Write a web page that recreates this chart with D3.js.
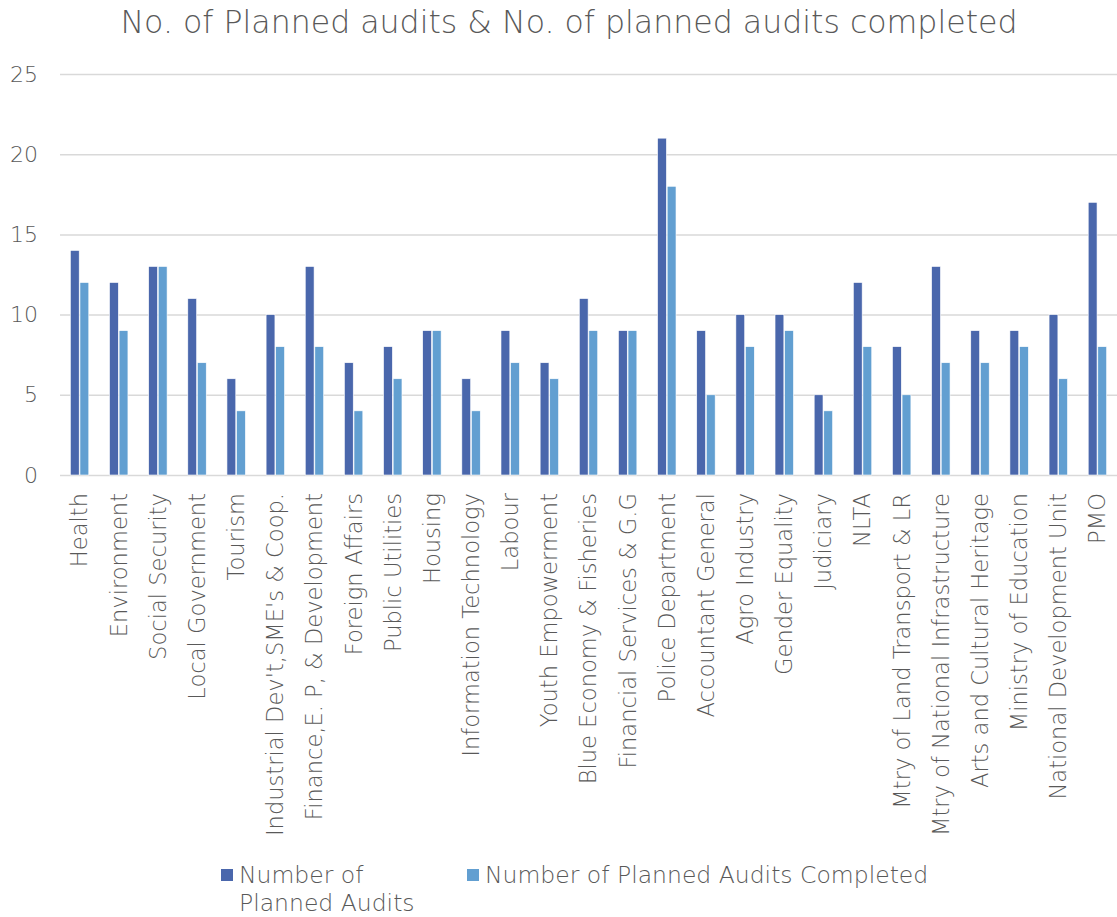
<!DOCTYPE html>
<html>
<head>
<meta charset="utf-8">
<script src="https://cdn.jsdelivr.net/npm/d3@7/dist/d3.min.js"></script>
<style>
  html, body { margin: 0; padding: 0; background: #fff; }
  svg text { font-family: "DejaVu Sans", sans-serif; font-weight: 200; fill: #595959; }
</style>
</head>
<body>
<svg id="chart" width="1117" height="917"></svg>
<script>
const title = "No. of Planned audits & No. of planned audits completed";
const categories = [
  "Health", "Environment", "Social Security", "Local Government", "Tourism",
  "Industrial Dev't,SME's & Coop.", "Finance,E. P, & Development", "Foreign Affairs",
  "Public Utilities", "Housing", "Information Technology", "Labour",
  "Youth Empowerment", "Blue Economy & Fisheries", "Financial Services & G.G",
  "Police Department", "Accountant General", "Agro Industry", "Gender Equality",
  "Judiciary", "NLTA", "Mtry of Land Transport & LR", "Mtry of National Infrastructure",
  "Arts and Cultural Heritage", "Ministry of Education", "National Development Unit", "PMO"
];
const seriesNames = ["Number of Planned Audits", "Number of Planned Audits Completed"];
const plannedAudits   = [14, 12, 13, 11, 6, 10, 13, 7, 8, 9, 6, 9, 7, 11, 9, 21, 9, 10, 10, 5, 12, 8, 13, 9, 9, 10, 17];
const completedAudits = [12,  9, 13,  7, 4,  8,  8, 4, 6, 9, 4, 7, 6,  9, 9, 18, 5,  8,  9, 4,  8, 5,  7, 7, 8,  6,  8];
const yTicks = [0, 5, 10, 15, 20, 25];
const colors = ["#4a67ac", "#629fd1"];

const svg = d3.select("#chart");
const plotLeft = 60, plotRight = 1117, plotTop = 74, plotBottom = 475;

const x = d3.scaleBand().domain(categories).range([plotLeft, plotRight])
  .paddingInner(0.49).paddingOuter(0.245);
const xInner = d3.scaleBand().domain([0, 1]).range([0, x.bandwidth()]).padding(0.08);
const y = d3.scaleLinear().domain([0, 25]).range([plotBottom, plotTop]);

// Title
svg.append("text")
  .attr("x", 569).attr("y", 33)
  .attr("text-anchor", "middle")
  .style("font-size", "31.6px")
  .text(title);

// Gridlines
const yAxis = d3.axisLeft(y).tickValues(yTicks).tickSize(-(plotRight - plotLeft)).tickPadding(22);
const gy = svg.append("g").attr("transform", `translate(${plotLeft},0)`).call(yAxis);
gy.select(".domain").remove();
gy.selectAll(".tick line").attr("stroke", "#d9d9d9").attr("stroke-width", 1.5);
gy.selectAll(".tick text").style("font-size", "22px").attr("fill", "#595959");

// Bars
const data = categories.map((c, i) => ({ c, v: [plannedAudits[i], completedAudits[i]] }));
const groups = svg.append("g").selectAll("g").data(data).join("g")
  .attr("transform", d => `translate(${x(d.c)},0)`);
groups.selectAll("rect").data(d => d.v.map((v, k) => ({ v, k }))).join("rect")
  .attr("x", d => xInner(d.k))
  .attr("width", xInner.bandwidth())
  .attr("y", d => y(d.v))
  .attr("height", d => y(0) - y(d.v))
  .attr("fill", d => colors[d.k])
  .attr("stroke", "#ffffff").attr("stroke-width", 0.6);

// X axis labels
const xAxis = d3.axisBottom(x).tickSize(0).tickPadding(0);
const gx = svg.append("g").attr("transform", `translate(0,${plotBottom})`).call(xAxis);
gx.select(".domain").remove();
gx.selectAll(".tick text")
  .style("font-size", "22.6px")
  .attr("text-anchor", "end")
  .attr("transform", "rotate(-90)")
  .attr("x", -18)
  .attr("y", 0)
  .attr("dy", "0.35em")
  .attr("fill", "#595959");

// Legend
const legend = svg.append("g");
legend.append("rect").attr("x", 221).attr("y", 869).attr("width", 12).attr("height", 12).attr("fill", colors[0]);
const lt = legend.append("text").attr("x", 239).attr("y", 883).style("font-size", "23.5px");
lt.append("tspan").attr("x", 239).text("Number of");
lt.append("tspan").attr("x", 239).attr("dy", 28).text("Planned Audits");
legend.append("rect").attr("x", 467).attr("y", 869).attr("width", 12).attr("height", 12).attr("fill", colors[1]);
legend.append("text").attr("x", 485).attr("y", 883).style("font-size", "23.5px").text(seriesNames[1]);
</script>
</body>
</html>
